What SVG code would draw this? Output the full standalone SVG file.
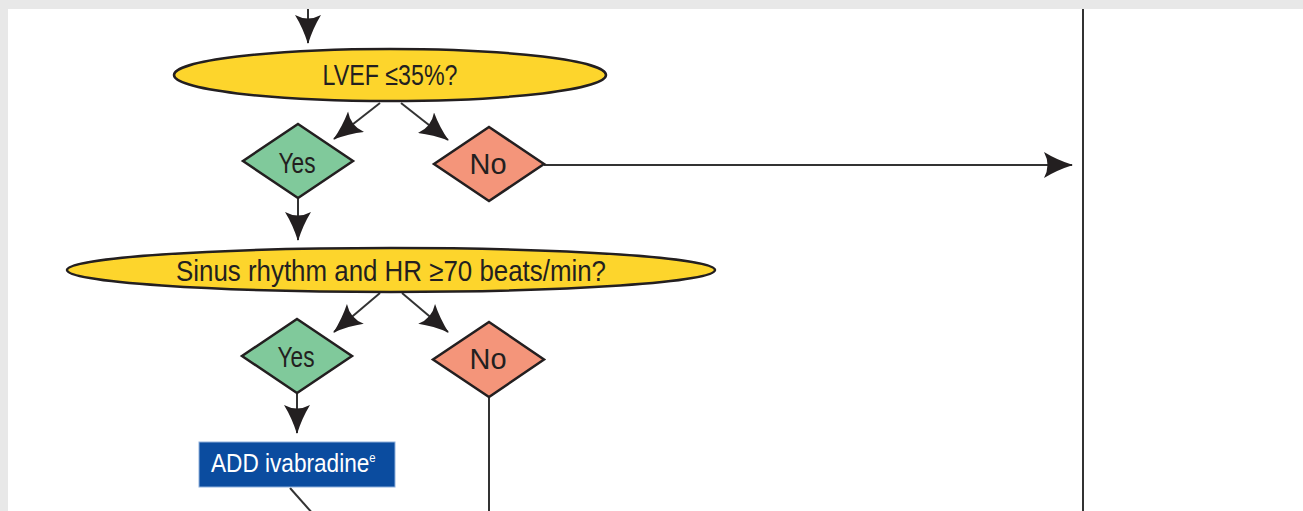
<svg xmlns="http://www.w3.org/2000/svg" width="1303" height="511" viewBox="0 0 1303 511">
  <style>
    .q { fill: #fdd52c; stroke: #231f20; stroke-width: 2.5; }
    .yes { fill: #80c99b; stroke: #231f20; stroke-width: 2.5; stroke-linejoin: miter; }
    .no { fill: #f4957a; stroke: #231f20; stroke-width: 2.5; stroke-linejoin: miter; }
    .box { fill: #0b4c9f; stroke: #8fb0dc; stroke-width: 1; }
    .lbl { font-family: "Liberation Sans", Arial, sans-serif; font-size: 29px; fill: #231f20; text-anchor: middle; }
    .wlbl { font-family: "Liberation Sans", Arial, sans-serif; font-size: 26px; fill: #ffffff; }
    .ln { fill: none; stroke: #333333; stroke-width: 2; }
    .arr { fill: none; stroke: #333333; stroke-width: 2; marker-end: url(#ah); }
  </style>
  <defs>
    <marker id="ah" markerUnits="userSpaceOnUse" viewBox="0 0 30 26" markerWidth="30" markerHeight="26" refX="29" refY="13" orient="auto">
      <path d="M30,13 Q14,8 1,0 Q8,13 1,26 Q14,18 30,13 z" fill="#231f20"/>
    </marker>
  </defs>
  <rect x="0" y="0" width="1303" height="511" fill="#e8e8e8"/>
  <rect x="8" y="9" width="1295" height="502" fill="#ffffff"/>

  <g id="connectors">
    <line class="arr" x1="308" y1="9" x2="308" y2="43"/>
    <line class="arr" x1="380" y1="103" x2="334" y2="139"/>
    <line class="arr" x1="401" y1="103" x2="448" y2="140"/>
    <line class="arr" x1="544" y1="165" x2="1072" y2="165"/>
    <line class="ln" x1="1083" y1="9" x2="1083" y2="511"/>
    <line class="arr" x1="298" y1="198" x2="298" y2="240"/>
    <line class="arr" x1="380" y1="293" x2="334" y2="332"/>
    <line class="arr" x1="402" y1="293" x2="448" y2="332"/>
    <line class="arr" x1="297" y1="393" x2="297" y2="433"/>
    <line class="ln" x1="489" y1="397" x2="489" y2="511"/>
    <line class="arr" x1="290" y1="488" x2="345" y2="550"/>
  </g>

  <g id="q-lvef">
    <ellipse class="q" cx="390" cy="75" rx="216" ry="26"/>
    <text class="lbl" x="390" y="85" textLength="135" lengthAdjust="spacingAndGlyphs">LVEF ≤35%?</text>
  </g>
  <g id="yes1">
    <polygon class="yes" points="298,124 353,161 298,198 243,161"/>
    <text class="lbl" x="297" y="173" textLength="37" lengthAdjust="spacingAndGlyphs">Yes</text>
  </g>
  <g id="no1">
    <polygon class="no" points="489,127 544,164 489,201 434,164"/>
    <text class="lbl" x="488" y="174" textLength="37" lengthAdjust="spacingAndGlyphs">No</text>
  </g>
  <g id="q-sinus">
    <ellipse class="q" cx="391" cy="270" rx="324" ry="22"/>
    <text class="lbl" x="391" y="281" textLength="430" lengthAdjust="spacingAndGlyphs">Sinus rhythm and HR ≥70 beats/min?</text>
  </g>
  <g id="yes2">
    <polygon class="yes" points="297,319 352,356 297,393 242,356"/>
    <text class="lbl" x="296" y="367" textLength="37" lengthAdjust="spacingAndGlyphs">Yes</text>
  </g>
  <g id="no2">
    <polygon class="no" points="489,322 544,359.5 489,397 433,359.5"/>
    <text class="lbl" x="488" y="369" textLength="37" lengthAdjust="spacingAndGlyphs">No</text>
  </g>
  <g id="ivabradine">
    <rect class="box" x="199" y="442" width="196" height="45"/>
    <text class="wlbl" transform="translate(211,472) scale(0.87,1)" x="0" y="0">ADD ivabradine<tspan font-size="13" dy="-10">e</tspan></text>
  </g>
</svg>
